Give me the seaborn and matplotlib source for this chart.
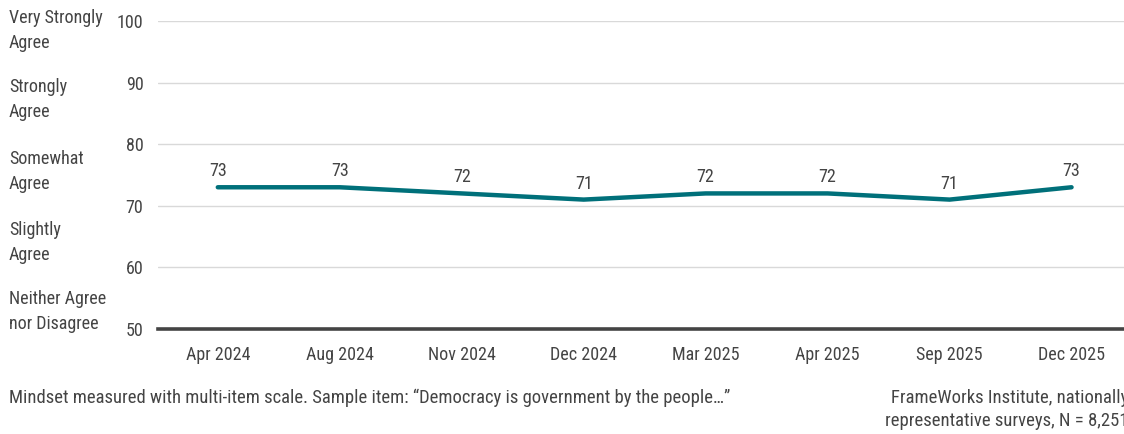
import numpy as np
import pandas as pd
import matplotlib
matplotlib.use('Agg')
import matplotlib.pyplot as plt
import matplotlib.transforms as mtransforms
import seaborn as sb

waves = ['Apr 2024', 'Aug 2024', 'Nov 2024', 'Dec 2024', 'Mar 2025', 'Apr 2025', 'Sep 2025', 'Dec 2025']
scores = [73, 73, 72, 71, 72, 72, 71, 73]
scale_labels = ['Very Strongly\nAgree', 'Strongly\nAgree', 'Somewhat\nAgree', 'Slightly\nAgree', 'Neither Agree\nnor Disagree']
scale_pos = [98.5, 87.2, 75.6, 64.1, 52.8]

sb.set_style('white')
plt.rcParams['font.family'] = ['Roboto Condensed', 'DejaVu Sans']
plt.rcParams['font.size'] = 13
txt = '#444444'
teal = '#00707a'

df = pd.DataFrame({'wave': waves, 'score': scores})

fig = plt.figure(figsize=(11.24, 4.34), dpi=100)
ax = fig.add_axes([0.1406, 0.242, 0.8594, 0.7098])

sb.lineplot(data=df, x='wave', y='score', ax=ax, color=teal, lw=3.2,
            solid_capstyle='round', sort=False)

ax.set_ylim(50, 100)
ax.set_xlim(-0.49, 7.43)
ax.set_yticks([50, 60, 70, 80, 90, 100])
ax.grid(axis='y', color='#d9d9d9', lw=1)
ax.set_axisbelow(True)
for s in ['top', 'right', 'left']:
    ax.spines[s].set_visible(False)
ax.spines['bottom'].set_color('#444444')
ax.spines['bottom'].set_linewidth(2.6)
ax.tick_params(axis='both', length=0, colors=txt, labelsize=13)
ax.tick_params(axis='x', pad=12)
ax.tick_params(axis='y', pad=10.5)
ax.set_xlabel('')
ax.set_ylabel('')

for i, v in enumerate(scores):
    ax.annotate(str(v), (i, v), xytext=(0, 5), textcoords='offset points',
                ha='center', va='bottom', color=txt, fontsize=13)

trans = mtransforms.blended_transform_factory(fig.transFigure, ax.transData)
for lab, y in zip(scale_labels, scale_pos):
    ax.text(0.008, y, lab, transform=trans, ha='left', va='center',
            color=txt, fontsize=13, linespacing=1.5, clip_on=False)

fig.text(0.008, 0.083, 'Mindset measured with multi-item scale. Sample item: \u201cDemocracy is government by the people\u2026\u201d',
         ha='left', va='center', color=txt, fontsize=13.4)
fig.text(0.7875, 0.056, 'FrameWorks Institute, nationally\nrepresentative surveys, N = 8,251',
         ha='left', va='center', color=txt, fontsize=13.4, linespacing=1.4, multialignment='right')

fig.savefig('out.png', dpi=100)
